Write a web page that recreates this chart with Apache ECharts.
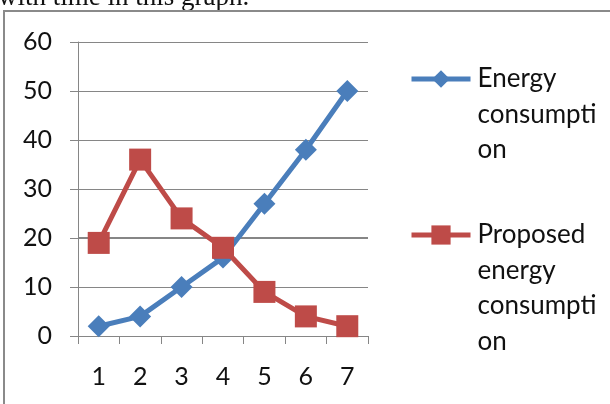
<!DOCTYPE html>
<html>
<head>
<meta charset="utf-8">
<script src="https://cdn.jsdelivr.net/npm/echarts@6/dist/echarts.min.js"></script>
<style>
  html, body { margin: 0; padding: 0; background: #fff; }
  #chart { width: 610px; height: 404px; }
</style>
</head>
<body>
<div id="chart"></div>
<script>
// Periods on the horizontal axis
const periods = ['1', '2', '3', '4', '5', '6', '7'];
// Measured consumption per period
const energyConsumption = [2, 4, 10, 16, 27, 38, 50];
// Proposed consumption per period
const proposedConsumption = [19, 36, 24, 18, 9, 4, 2];
// Vertical axis range
const yMin = 0;
const yMax = 60;
const yStep = 10;

const seriesNames = ['Energy consumption', 'Proposed energy consumption'];
const legendLines = {
  'Energy consumption': ['Energy', 'consumpti', 'on'],
  'Proposed energy consumption': ['Proposed', 'energy', 'consumpti', 'on']
};

const BLUE = '#4A7EBB';
const RED = '#BE4B48';
const GRID = '#868686';
const FONT = 'Lato';
const LINE_H = 35.5;

const chart = echarts.init(document.getElementById('chart'), null, { renderer: 'canvas' });

function legendFor(name, left, centerY, symbolSize) {
  const lines = legendLines[name];
  // blank lines in front keep the first text line level with the icon
  const text = new Array(lines.length - 1).fill('').concat(lines).join('\n');
  const blockH = (2 * lines.length - 1) * LINE_H;
  return {
    data: [name],
    orient: 'vertical',
    left: left,
    top: centerY - blockH / 2,
    padding: 0,
    itemWidth: 59,
    itemHeight: symbolSize,
    itemGap: 0,
    selectedMode: false,
    formatter: () => text,
    lineStyle: { width: 5 },
    textStyle: {
      fontFamily: FONT,
      fontSize: 26,
      color: '#111',
      lineHeight: LINE_H,
      padding: [0, 0, 0, 2]
    }
  };
}

chart.setOption({
  animation: false,
  backgroundColor: '#fff',
  textStyle: { fontFamily: FONT },
  grid: { left: 78, right: 242, top: 42, bottom: 68, containLabel: false },
  legend: [
    legendFor(seriesNames[0], 409, 79, 22),
    legendFor(seriesNames[1], 409, 235, 24)
  ],
  xAxis: {
    type: 'category',
    data: periods,
    boundaryGap: true,
    axisLine: { show: true, lineStyle: { color: GRID, width: 1 } },
    axisTick: { show: true, length: 8, alignWithLabel: false, lineStyle: { color: GRID } },
    axisLabel: { fontFamily: FONT, fontSize: 25, color: '#111', margin: 28 },
    splitLine: { show: false }
  },
  yAxis: {
    type: 'value',
    min: yMin,
    max: yMax,
    interval: yStep,
    axisLine: { show: true, lineStyle: { color: GRID, width: 1 } },
    axisTick: { show: true, length: 8, lineStyle: { color: GRID } },
    axisLabel: { fontFamily: FONT, fontSize: 25, color: '#111', margin: 26 },
    splitLine: { show: true, lineStyle: { color: GRID, width: 1 } }
  },
  series: [
    {
      name: seriesNames[0],
      type: 'line',
      data: energyConsumption,
      symbol: 'diamond',
      symbolSize: 22,
      lineStyle: { color: BLUE, width: 5 },
      itemStyle: { color: BLUE },
      z: 2,
      markLine: {
        silent: true,
        symbol: 'none',
        label: { show: false },
        lineStyle: { color: GRID, width: 2, type: 'solid' },
        data: [{ yAxis: 20 }],
        z: 1
      }
    },
    {
      name: seriesNames[1],
      type: 'line',
      data: proposedConsumption,
      symbol: 'rect',
      symbolSize: 22,
      lineStyle: { color: RED, width: 5 },
      itemStyle: { color: RED },
      z: 3
    }
  ],
  graphic: [
    {
      type: 'text',
      silent: true,
      x: -2,
      y: 11,
      style: {
        text: 'with time in this graph.',
        font: '27px "Liberation Serif", serif',
        fill: '#111',
        verticalAlign: 'bottom'
      },
      z: 0
    },
    {
      type: 'rect',
      silent: true,
      shape: { x: 0, y: 11, width: 640, height: 440 },
      style: { fill: '#fff', stroke: 'none' },
      z: 0
    },
    {
      type: 'rect',
      silent: true,
      shape: { x: 4, y: 11, width: 640, height: 440 },
      style: { fill: 'none', stroke: '#8a8a8a', lineWidth: 2 },
      z: 0
    }
  ]
});
</script>
</body>
</html>
